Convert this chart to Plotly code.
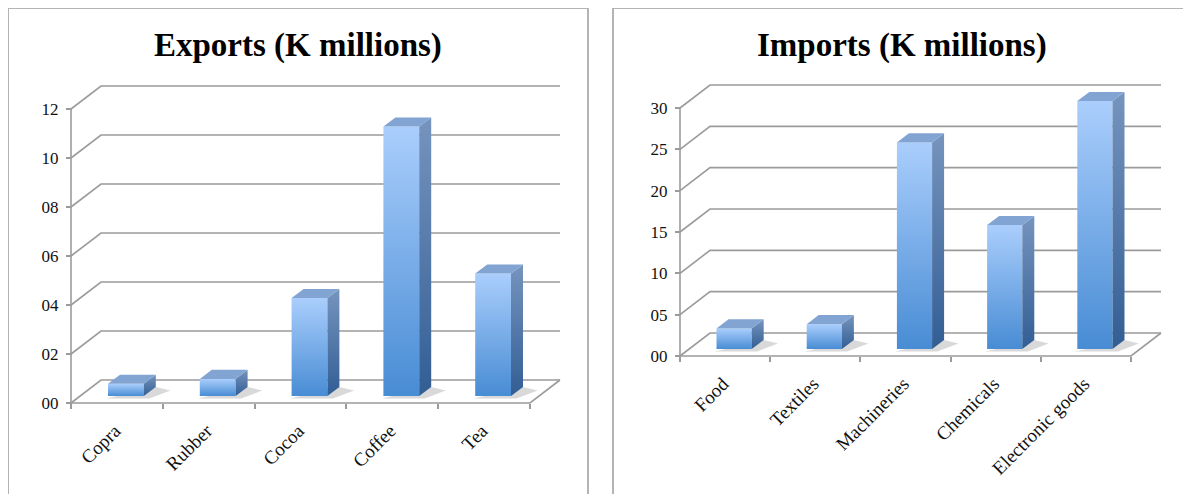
import plotly.graph_objects as go

# page is 1191x494; the html body has an 8px margin, so the figure is 8px smaller
PAGE_W, PAGE_H = 1191, 494
OFF = 8
W, H = PAGE_W - OFF, PAGE_H - OFF

# ---------------- data ----------------
export_categories = ["Copra", "Rubber", "Cocoa", "Coffee", "Tea"]
export_values = [0.5, 0.7, 4, 11, 5]
export_tickvals = [0, 2, 4, 6, 8, 10, 12]
export_ticktext = ["00", "02", "04", "06", "08", "10", "12"]

import_categories = ["Food", "Textiles", "Machineries", "Chemicals", "Electronic goods"]
import_values = [2.5, 3, 25, 15, 30]
import_tickvals = [0, 5, 10, 15, 20, 25, 30]
import_ticktext = ["00", "05", "10", "15", "20", "25", "30"]

titles = ["Exports (K millions)", "Imports (K millions)"]

# ---------------- styling / layout geometry (page pixels) ----------------
GRID = "rgb(155,155,155)"
FONT = "Liberation Serif"
DEPTH_X_PX, DEPTH_Y_PX = 30, 23
D1, D2 = 0.3, 0.7          # bar depth start / end (fraction of floor depth)
BAR_W = 0.39               # bar width in category units


def fx(px):  # page x pixel -> figure x pixel
    return px - OFF


def fy(py):  # page y pixel -> figure y pixel
    return py - OFF


panels = [
    dict(cats=export_categories, vals=export_values, tv=export_tickvals, tt=export_ticktext,
         xa="x", ya="y", px0=fx(8), px1=fx(600), ax_px=fx(71), end_px=fx(530),
         base_px=fy(403), top_px=fy(109), title=titles[0], tcx=fx(298)),
    dict(cats=import_categories, vals=import_values, tv=import_tickvals, tt=import_ticktext,
         xa="x2", ya="y2", px0=fx(600), px1=W, ax_px=fx(680), end_px=fx(1131),
         base_px=fy(356), top_px=fy(108), title=titles[1], tcx=fx(902)),
]

fig = go.Figure()
layout_axes = {}

for k, p in enumerate(panels):
    n = len(p["cats"])
    top_val = p["tv"][-1]
    sx = (p["end_px"] - p["ax_px"]) / n
    sy = (p["base_px"] - p["top_px"]) / top_val
    DX = DEPTH_X_PX / sx
    DY = DEPTH_Y_PX / sy
    xr_ = [-0.5 - (p["ax_px"] - p["px0"]) / sx, -0.5 + (p["px1"] - p["ax_px"]) / sx]
    yr_ = [-(H - p["base_px"]) / sy, p["base_px"] / sy]
    kw = dict(xaxis=p["xa"], yaxis=p["ya"], showlegend=False, hoverinfo="skip")

    # wall gridlines with diagonals
    gx, gy = [], []
    for v in p["tv"]:
        gx += [-0.5, -0.5 + DX, n - 0.5 + DX, None]
        gy += [v, v + DY, v + DY, None]
    # floor front edge + right diagonal, y axis line
    gx += [-0.5, n - 0.5, n - 0.5 + DX, None, -0.5, -0.5, None]
    gy += [0, 0, DY, None, 0, top_val, None]
    fig.add_trace(go.Scatter(x=gx, y=gy, mode="lines", line=dict(color=GRID, width=1.6), **kw))

    # bars (pseudo-3D)
    bdx = (D2 - D1) * DX
    bdy = (D2 - D1) * DY
    for i, v in enumerate(p["vals"]):
        xl = i - BAR_W / 2 + D1 * DX
        xr = xl + BAR_W
        y0 = D1 * DY
        yt = v + y0
        # shadow
        fig.add_trace(go.Scatter(
            x=[xl - 0.02, xr + 0.06, xr + bdx + 0.16, xr + bdx, xl - 0.02],
            y=[y0 - 0.1 * DY, y0 - 0.1 * DY, y0 + bdy * 0.6, y0 + bdy, y0 - 0.1 * DY],
            mode="lines", line=dict(width=0), fill="toself",
            fillcolor="rgba(0,0,0,0.15)", **kw))
        # front face
        fig.add_trace(go.Scatter(
            x=[xl, xr, xr, xl, xl], y=[y0, y0, yt, yt, y0], mode="lines",
            line=dict(width=0), fill="toself",
            fillgradient=dict(type="vertical",
                              colorscale=[[0, "rgb(72,140,212)"], [1, "rgb(170,206,252)"]]),
            **kw))
        # side face
        fig.add_trace(go.Scatter(
            x=[xr, xr + bdx, xr + bdx, xr, xr], y=[y0, y0 + bdy, yt + bdy, yt, y0], mode="lines",
            line=dict(width=0), fill="toself",
            fillgradient=dict(type="vertical",
                              colorscale=[[0, "rgb(50,94,148)"], [1, "rgb(118,148,190)"]]),
            **kw))
        # top face
        fig.add_trace(go.Scatter(
            x=[xl, xr, xr + bdx, xl + bdx, xl], y=[yt, yt, yt + bdy, yt + bdy, yt], mode="lines",
            line=dict(width=0), fill="toself", fillcolor="rgb(130,164,210)", **kw))

    sfx = "" if k == 0 else "2"
    layout_axes["xaxis" + sfx] = dict(
        domain=[p["px0"] / W, p["px1"] / W], range=xr_, anchor="free",
        position=(H - p["base_px"]) / H, showgrid=False, zeroline=False, showline=False,
        tickmode="array", tickvals=list(range(n)), ticktext=p["cats"], tickangle=-45,
        ticks="", ticklabelshift=-2, ticklabelstandoff=12,
        tickfont=dict(family=FONT, size=19, color="#111"),
        minor=dict(tickmode="array", tickvals=[b - 0.5 for b in range(n + 1)],
                   ticks="outside", ticklen=5, tickcolor=GRID, tickwidth=1.6),
        fixedrange=True)
    layout_axes["yaxis" + sfx] = dict(
        domain=[0, 1], range=yr_, anchor="free", position=p["ax_px"] / W,
        showgrid=False, zeroline=False, showline=False,
        tickmode="array", tickvals=p["tv"], ticktext=p["tt"],
        ticks="outside", ticklen=5, tickcolor=GRID, tickwidth=1.6, ticklabelstandoff=4,
        tickfont=dict(family=FONT, size=17, color="#111"), fixedrange=True)

annotations = [
    dict(text="<b>%s</b>" % p["title"], x=p["tcx"] / W, y=1 - fy(45) / H, xref="paper",
         yref="paper", xanchor="center", yanchor="middle", showarrow=False,
         font=dict(family=FONT, size=33, color="#000"))
    for p in panels
]

shapes = [
    dict(type="rect", xref="paper", yref="paper", x0=fx(8) / W, x1=fx(588) / W, y0=-0.05,
         y1=1 - fy(8) / H, line=dict(color="rgb(180,180,180)", width=2)),
    dict(type="rect", xref="paper", yref="paper", x0=fx(613) / W, x1=1.05, y0=-0.05,
         y1=1 - fy(8) / H, line=dict(color="rgb(180,180,180)", width=2)),
]

fig.update_layout(
    width=W, height=H, margin=dict(l=0, r=0, t=0, b=0),
    paper_bgcolor="white", plot_bgcolor="rgba(0,0,0,0)",
    annotations=annotations, shapes=shapes, showlegend=False, **layout_axes)

fig.write_html("out.html")
